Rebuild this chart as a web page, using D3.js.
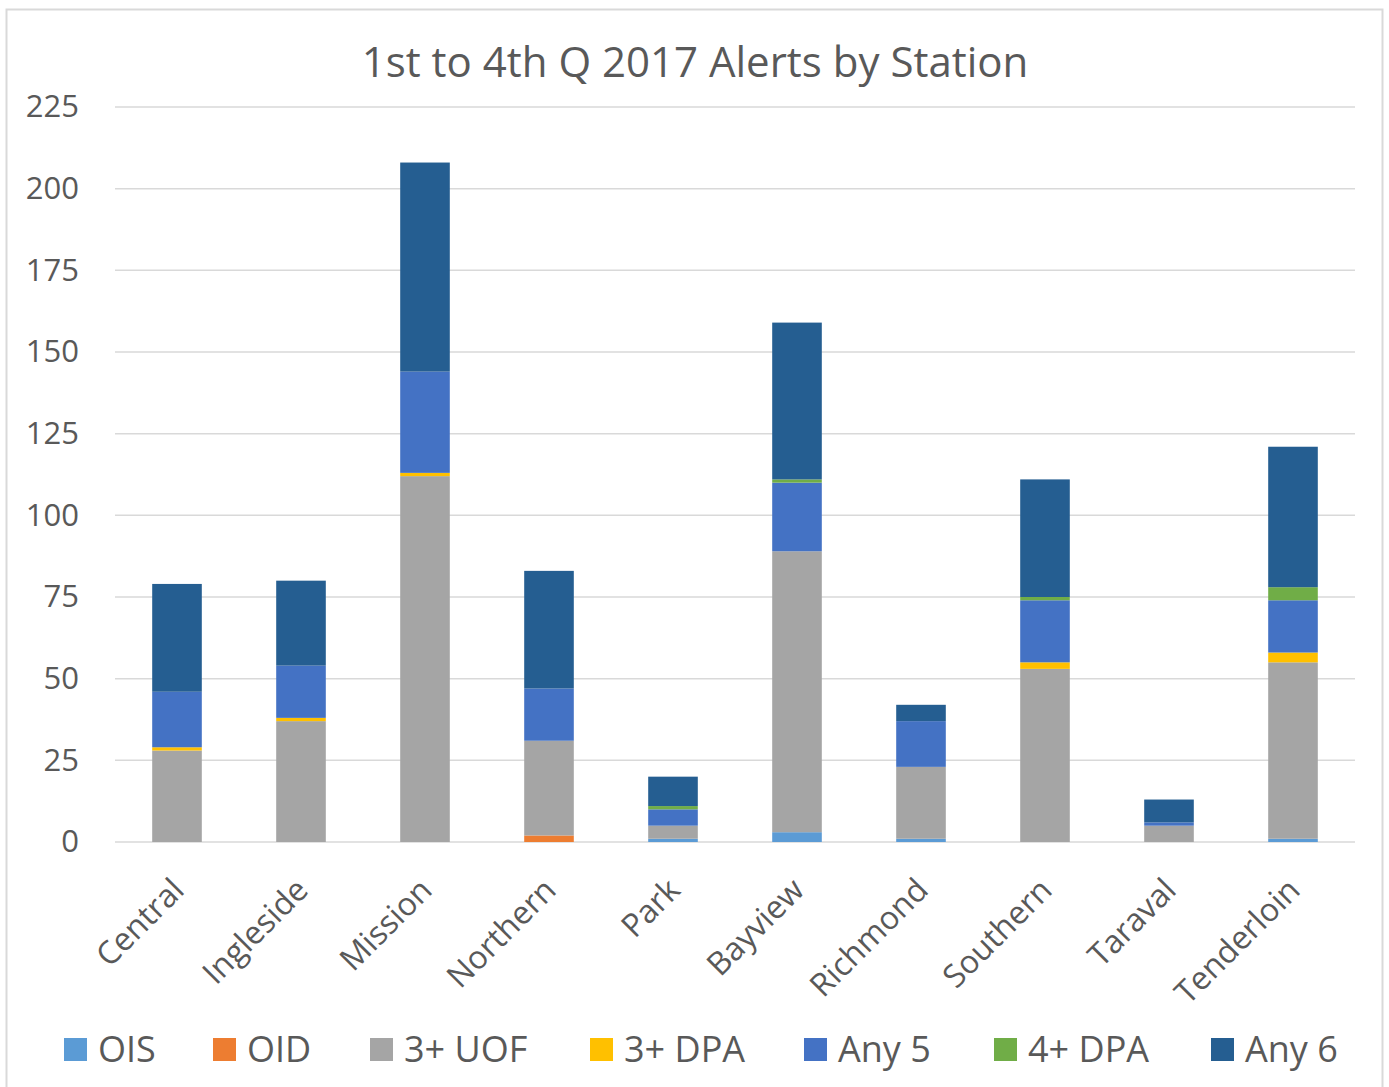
<!DOCTYPE html>
<html>
<head>
<meta charset="utf-8">
<script src="https://cdn.jsdelivr.net/npm/d3@7"></script>
<style>
  html, body { margin: 0; padding: 0; background: #ffffff; }
  svg { display: block; }
  text { font-family: "Open Sans", "Noto Sans", sans-serif; fill: #595959; }
</style>
</head>
<body>
<svg id="chart" width="1389" height="1087"></svg>
<script>
const categories = ["Central","Ingleside","Mission","Northern","Park","Bayview","Richmond","Southern","Taraval","Tenderloin"];
const seriesNames = ["OIS","OID","3+ UOF","3+ DPA","Any 5","4+ DPA","Any 6"];
const seriesColors = ["#5b9bd5","#ed7d31","#a5a5a5","#ffc000","#4472c4","#70ad47","#255e91"];
const OIS    = [0, 0, 0, 0, 1, 3, 1, 0, 0, 1];
const OID    = [0, 0, 0, 2, 0, 0, 0, 0, 0, 0];
const UOF3   = [28, 37, 112, 29, 4, 86, 22, 53, 5, 54];
const DPA3   = [1, 1, 1, 0, 0, 0, 0, 2, 0, 3];
const Any5   = [17, 16, 31, 16, 5, 21, 14, 19, 1, 16];
const DPA4   = [0, 0, 0, 0, 1, 1, 0, 1, 0, 4];
const Any6   = [33, 26, 64, 36, 9, 48, 5, 36, 7, 43];
const yTicks = [0, 25, 50, 75, 100, 125, 150, 175, 200, 225];
const title = "1st to 4th Q 2017 Alerts by Station";

const seriesValues = [OIS, OID, UOF3, DPA3, Any5, DPA4, Any6];
const table = categories.map((c, i) => {
  const row = { cat: c };
  seriesNames.forEach((s, j) => row[s] = seriesValues[j][i]);
  return row;
});

const svg = d3.select("#chart");
const W = 1389, H = 1087;
const m = { left: 115, right: 34, top: 107, bottom: 245 };

// outer border
svg.append("rect").attr("x", 6.5).attr("y", 9.5).attr("width", 1376).attr("height", 1090)
  .attr("fill", "#fff").attr("stroke", "#d9d9d9").attr("stroke-width", 2);

const x = d3.scaleBand().domain(categories).range([m.left, W - m.right]).paddingInner(0.6).paddingOuter(0.3);
const y = d3.scaleLinear().domain([0, 225]).range([H - m.bottom, m.top]);

// gridlines
svg.append("g").selectAll("line").data(yTicks).join("line")
  .attr("x1", m.left).attr("x2", W - m.right)
  .attr("y1", d => y(d)).attr("y2", d => y(d))
  .attr("stroke", "#d9d9d9").attr("stroke-width", 1.5);

// y axis labels
const yAxis = d3.axisLeft(y).tickValues(yTicks).tickSize(0).tickPadding(0);
const gy = svg.append("g").attr("transform", `translate(79,0)`).call(yAxis);
gy.select(".domain").remove();
gy.selectAll("text").attr("font-size", 31).attr("fill", "#595959")
  .style("font-family", "'Open Sans', 'Noto Sans', sans-serif");

// stacked bars
const stack = d3.stack().keys(seriesNames);
const stacked = stack(table);
svg.append("g").selectAll("g").data(stacked).join("g")
  .attr("fill", (d, i) => seriesColors[i])
  .selectAll("rect").data(d => d).join("rect")
  .attr("x", d => x(d.data.cat))
  .attr("width", x.bandwidth())
  .attr("y", d => y(d[1]))
  .attr("height", d => Math.max(0, y(d[0]) - y(d[1])));

// x axis labels
const xAxis = d3.axisBottom(x).tickSize(0).tickPadding(0);
const gx = svg.append("g").attr("transform", `translate(0,${H - m.bottom})`).call(xAxis);
gx.select(".domain").remove();
gx.selectAll("text")
  .attr("font-size", 32).attr("fill", "#595959")
  .style("font-family", "'Open Sans', 'Noto Sans', sans-serif")
  .attr("text-anchor", "end")
  .attr("dy", null).attr("y", null)
  .attr("transform", "translate(9,50) rotate(-45)");

// title
svg.append("text").attr("x", 695).attr("y", 77).attr("text-anchor", "middle")
  .attr("font-size", 42).text(title);

// legend
const legendX = [64, 213, 370, 590, 804, 994, 1211];
const lg = svg.append("g").selectAll("g").data(seriesNames).join("g")
  .attr("transform", (d, i) => `translate(${legendX[i]},1038)`);
lg.append("rect").attr("width", 23).attr("height", 23).attr("fill", (d, i) => seriesColors[i]);
lg.append("text").attr("x", 34).attr("y", 24).attr("font-size", 36).text(d => d);
</script>
</body>
</html>
